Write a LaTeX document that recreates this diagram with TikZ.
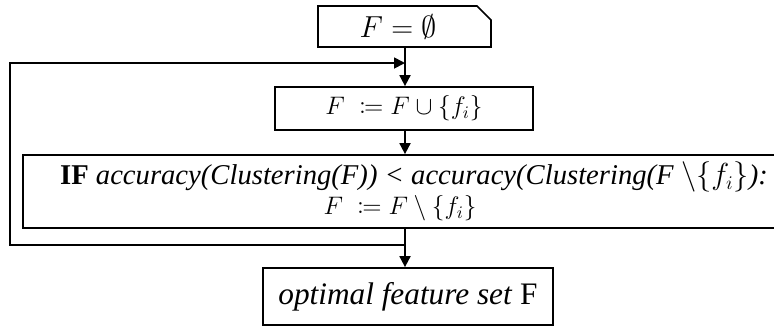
\documentclass[tikz,border=0pt]{standalone}
\usepackage{mathtools}
\usepackage{fontspec}
\setmainfont{Liberation Serif}[ItalicFont={Liberation Serif Italic}, BoldFont={Liberation Serif Bold}]
\usetikzlibrary{arrows.meta, positioning, shapes.misc}

\begin{document}
\begin{tikzpicture}[>={Triangle[length=2.2mm, width=2.2mm]},
  block/.style={draw, line width=1pt, align=center, inner sep=0pt},
  start/.style={block, chamfered rectangle, chamfered rectangle corners=north east,
                chamfered rectangle xsep=0.15cm, chamfered rectangle ysep=0.13cm},
  arr/.style={->, line width=1pt},
  line/.style={line width=1pt}]

\useasboundingbox (0,0) rectangle (15.48,-6.54);

% --- blocks
\node[start, minimum width=3.46cm, minimum height=0.82cm, font=\fontsize{17.5}{20}\selectfont]
  (init) at (8.09,-0.53) {$F = \emptyset$\hspace{0.25cm}};
\node[block, minimum width=5.16cm, minimum height=0.86cm, font=\fontsize{14}{16}\selectfont]
  (add) at (8.08,-2.17) {$F \;\coloneqq F \cup \{f_i\}$};
\node[block, minimum width=15.08cm, minimum height=1.46cm, font=\fontsize{16.3}{17}\selectfont]
  (test) at (8.00,-3.83)
  {\hspace*{0.56cm}\textbf{IF} \textit{accuracy(Clustering(F)) < accuracy(Clustering(F} $\setminus \{f_i\}$\textit{):}\\
   {\fontsize{14.5}{16}\selectfont $F \;\coloneqq F \setminus \{f_i\}$}};
\node[block, minimum width=5.8cm, minimum height=1.14cm, font=\fontsize{17.8}{20}\selectfont]
  (result) at (8.16,-5.93) {\textit{optimal feature set} F};

% --- loop back
\coordinate (join) at (8.10,-1.26);
\coordinate (exit) at (8.10,-4.90);
\coordinate (c1) at (0.20,-4.90);
\coordinate (c2) at (0.20,-1.26);

\draw[line] (init.south -| join) -- (join);
\draw[arr] (join) -- (add.north -| join);
\draw[arr] (add.south -| join) -- (test.north -| join);
\draw[arr] (test.south -| join) -- (result.north -| join);
\draw[arr] (exit) -- (c1) -- (c2) -- (join);
\end{tikzpicture}
\end{document}
